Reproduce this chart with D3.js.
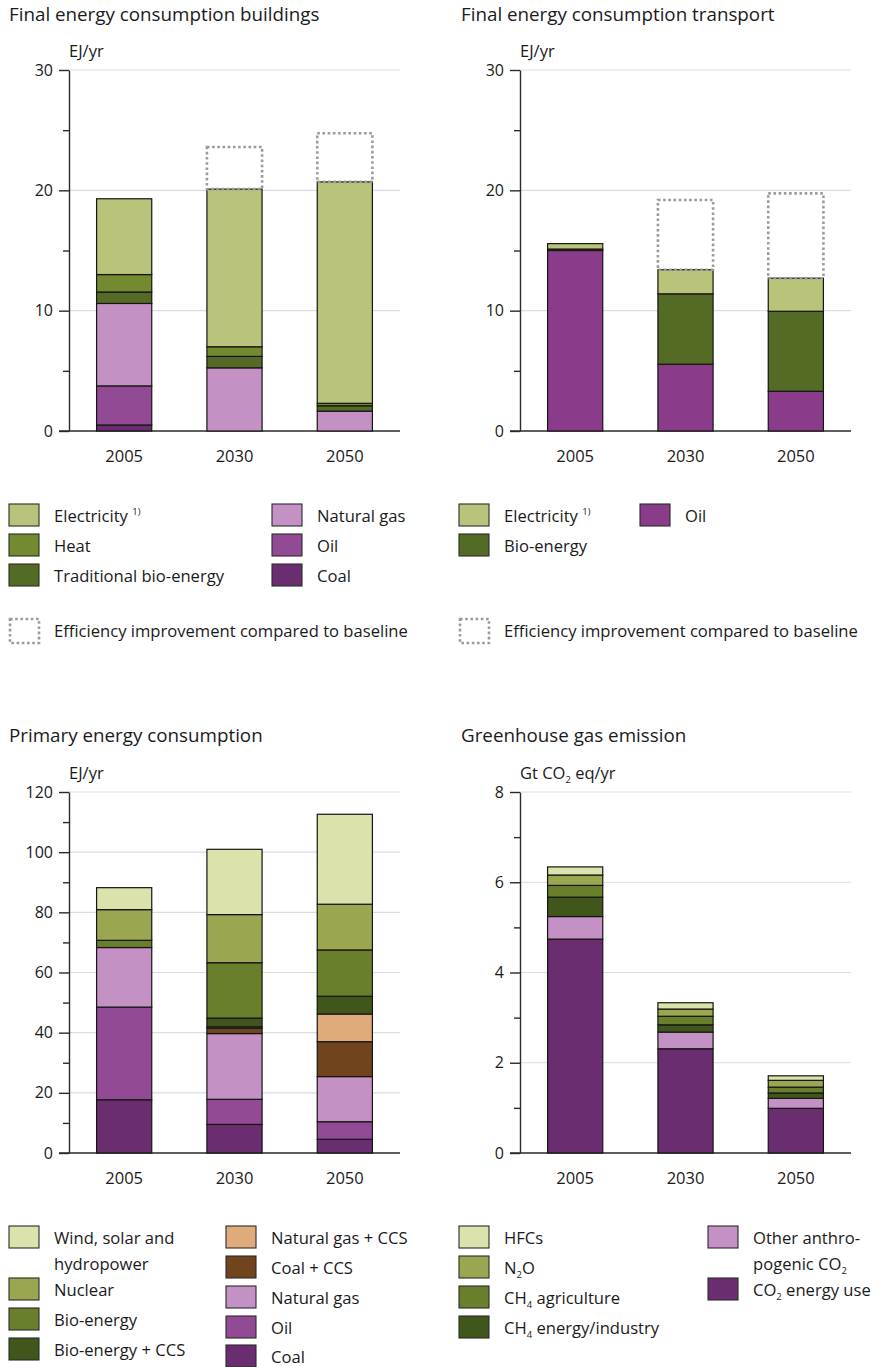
<!DOCTYPE html>
<html>
<head>
<meta charset="utf-8">
<script src="https://cdn.jsdelivr.net/npm/d3@7"></script>
<style>
body { margin: 0; background: #fff; }
svg { display: block; font-family: "Open Sans", sans-serif; }
text { fill: #1a1a1a; }
.title { font-size: 18.8px; }
.unit { font-size: 16.5px; }
.axis text { font-size: 16px; font-family: "Open Sans", sans-serif; fill: #1a1a1a; }
.axis path, .axis line { stroke: #2a2a2a; stroke-width: 1.4; }
.grid { stroke: #dadde3; stroke-width: 1.2; }
.year { font-size: 16.5px; }
.bar { stroke: #151515; stroke-width: 1.2; }
.eff { fill: none; stroke: #9b9b9b; stroke-width: 2.6; stroke-dasharray: 2.6 2.6; }
.legend text { font-size: 16.6px; }
.swatch { stroke: #2a2a2a; stroke-width: 1.1; }
</style>
</head>
<body>
<svg width="880" height="1367"></svg>
<script>
const years = ['2005', '2030', '2050']

// Final energy consumption buildings (EJ/yr)
const bldCoal = [0.5, 0, 0]
const bldOil = [3.25, 0, 0]
const bldGas = [6.85, 5.25, 1.65]
const bldTradBio = [0.95, 0.95, 0.45]
const bldHeat = [1.45, 0.8, 0.2]
const bldElec = [6.3, 13.1, 18.4]
const bldEfficiency = [0, 3.5, 4.05]

// Final energy consumption transport (EJ/yr)
const trOil = [15.0, 5.55, 3.3]
const trBio = [0.12, 5.85, 6.65]
const trElec = [0.45, 2.0, 2.75]
const trEfficiency = [0, 5.8, 7.05]

// Primary energy consumption (EJ/yr)
const prCoal = [17.7, 9.5, 4.55]
const prOil = [30.8, 8.35, 5.85]
const prGas = [19.8, 21.85, 15.0]
const prCoalCCS = [0, 1.8, 11.6]
const prGasCCS = [0, 0.45, 9.2]
const prBioCCS = [0, 2.9, 5.9]
const prBio = [2.4, 18.4, 15.4]
const prNuclear = [10.2, 16.0, 15.2]
const prRenew = [7.3, 21.7, 29.9]

// Greenhouse gas emission (Gt CO2 eq/yr)
const ghgCO2Energy = [4.74, 2.31, 0.99]
const ghgCO2Other = [0.5, 0.37, 0.22]
const ghgCH4Energy = [0.43, 0.16, 0.12]
const ghgCH4Agri = [0.26, 0.19, 0.13]
const ghgN2O = [0.23, 0.16, 0.15]
const ghgHFC = [0.18, 0.14, 0.1]

const W = 331, H = 361
const svg = d3.select('svg')

// text with _{sub} and ^{sup} markup
function rich(sel, str) {
	let shift = 0
	str.split(/([_^]\{[^}]*\})/).forEach(part => {
		if (!part) return
		const t = sel.append('tspan')
		let s = 0
		if (part[0] === '_' || part[0] === '^') {
			s = part[0] === '_' ? 4 : -7
			t.attr('font-size', '9.5px')
			part = part.slice(2, -1)
		}
		t.attr('dy', s - shift).text(part)
		shift = s
	})
}

function drawPanel(p) {
	const g = svg.append('g').attr('transform', `translate(${p.x},${p.y})`)

	const x = d3.scaleBand().domain(years).range([0, W]).paddingInner(0.5).paddingOuter(0.25)
	const y = d3.scaleLinear().domain([0, p.max]).range([H, 0])

	g.selectAll('line.grid')
		.data(p.ticks.filter(d => d > 0))
		.join('line')
		.attr('class', 'grid')
		.attr('x1', 0).attr('x2', W)
		.attr('y1', d => y(d)).attr('y2', d => y(d))

	// minor ticks
	g.append('g')
		.attr('class', 'axis')
		.call(d3.axisLeft(y).tickValues(p.minor).tickSize(6).tickSizeOuter(0).tickFormat(''))
		.call(a => a.select('.domain').remove())

	g.append('g')
		.attr('class', 'axis')
		.call(d3.axisLeft(y).tickValues(p.ticks).tickSize(10).tickSizeOuter(0).tickPadding(6))

	g.append('line')
		.attr('x1', -10).attr('x2', W)
		.attr('y1', y(0)).attr('y2', y(0))
		.attr('stroke', '#2a2a2a').attr('stroke-width', 1.4)

	const table = years.map((yr, i) => {
		const row = {year: yr}
		p.series.forEach(s => { row[s.name] = s.values[i] })
		return row
	})
	const layers = d3.stack().keys(p.series.map(s => s.name))(table)

	layers.forEach((layer, li) => {
		g.selectAll(null)
			.data(layer.filter(d => d[1] - d[0] > 0))
			.join('rect')
			.attr('class', 'bar')
			.attr('fill', p.series[li].color)
			.attr('x', d => x(d.data.year))
			.attr('width', x.bandwidth())
			.attr('y', d => y(d[1]))
			.attr('height', d => y(d[0]) - y(d[1]))
	})

	if (p.efficiency) {
		const top = layers[layers.length - 1]
		g.selectAll(null)
			.data(years.map((yr, i) => ({year: yr, base: top[i][1], extra: p.efficiency[i]})).filter(d => d.extra > 0))
			.join('rect')
			.attr('class', 'eff')
			.attr('x', d => x(d.year))
			.attr('width', x.bandwidth())
			.attr('y', d => y(d.base + d.extra))
			.attr('height', d => y(d.base) - y(d.base + d.extra))
	}

	g.selectAll('text.year')
		.data(years)
		.join('text')
		.attr('class', 'year')
		.attr('x', d => x(d) + x.bandwidth() / 2)
		.attr('y', H + 31)
		.attr('text-anchor', 'middle')
		.text(d => d)

	g.append('text')
		.attr('class', 'unit')
		.attr('x', 0).attr('y', -13)
		.call(t => rich(t, p.unit))

	svg.append('text')
		.attr('class', 'title')
		.attr('x', p.tx).attr('y', p.ty)
		.text(p.title)

	// legend
	const lg = svg.append('g').attr('class', 'legend')
	p.series.forEach(s => {
		const sx = p.legendCols[s.col], sy = p.legendTop + s.ly
		lg.append('rect')
			.attr('class', 'swatch')
			.attr('x', sx).attr('y', sy)
			.attr('width', 30).attr('height', 22)
			.attr('fill', s.color)
		s.label.forEach((line, k) => {
			lg.append('text')
				.attr('x', sx + 45).attr('y', sy + 18 + k * 26)
				.call(t => rich(t, line))
		})
	})
	if (p.efficiency) {
		const sx = p.legendCols[0], sy = p.legendTop + 115
		lg.append('rect')
			.attr('class', 'eff')
			.attr('x', sx + 1).attr('y', sy)
			.attr('width', 29).attr('height', 24)
		lg.append('text')
			.attr('x', sx + 45).attr('y', sy + 18)
			.text('Efficiency improvement compared to baseline')
	}
}

const cLightGreen = '#b9c37a', cHeat = '#738a31', cDarkGreen = '#546b26'
const cWind = '#dbe2ac', cNuclear = '#9aa650', cBio = '#6a7f2b', cBioCCS = '#40561b'
const cGasCCS = '#dfab7b', cCoalCCS = '#70441c'
const cGas = '#c391c3', cOil = '#934a94', cCoal = '#6a2d70'

drawPanel({
	title: 'Final energy consumption buildings', tx: 9, ty: 21,
	x: 69, y: 70, max: 30, ticks: [0, 10, 20, 30], minor: [5, 15, 25], unit: 'EJ/yr',
	efficiency: bldEfficiency,
	legendTop: 504, legendCols: [9, 272],
	series: [
		{name: 'Coal', values: bldCoal, color: cCoal, label: ['Coal'], col: 1, ly: 60},
		{name: 'Oil', values: bldOil, color: cOil, label: ['Oil'], col: 1, ly: 30},
		{name: 'Natural gas', values: bldGas, color: cGas, label: ['Natural gas'], col: 1, ly: 0},
		{name: 'Traditional bio-energy', values: bldTradBio, color: cDarkGreen, label: ['Traditional bio-energy'], col: 0, ly: 60},
		{name: 'Heat', values: bldHeat, color: cHeat, label: ['Heat'], col: 0, ly: 30},
		{name: 'Electricity', values: bldElec, color: cLightGreen, label: ['Electricity ^{1)}'], col: 0, ly: 0}
	]
})

drawPanel({
	title: 'Final energy consumption transport', tx: 461, ty: 21,
	x: 520, y: 70, max: 30, ticks: [0, 10, 20, 30], minor: [5, 15, 25], unit: 'EJ/yr',
	efficiency: trEfficiency,
	legendTop: 504, legendCols: [459, 640],
	series: [
		{name: 'Oil', values: trOil, color: '#8a3c8b', label: ['Oil'], col: 1, ly: 0},
		{name: 'Bio-energy', values: trBio, color: cDarkGreen, label: ['Bio-energy'], col: 0, ly: 30},
		{name: 'Electricity', values: trElec, color: cLightGreen, label: ['Electricity ^{1)}'], col: 0, ly: 0}
	]
})

drawPanel({
	title: 'Primary energy consumption', tx: 9, ty: 742,
	x: 69, y: 792, max: 120, ticks: [0, 20, 40, 60, 80, 100, 120], minor: [10, 30, 50, 70, 90, 110], unit: 'EJ/yr',
	legendTop: 1226, legendCols: [9, 226],
	series: [
		{name: 'Coal', values: prCoal, color: cCoal, label: ['Coal'], col: 1, ly: 119},
		{name: 'Oil', values: prOil, color: cOil, label: ['Oil'], col: 1, ly: 90},
		{name: 'Natural gas', values: prGas, color: cGas, label: ['Natural gas'], col: 1, ly: 60},
		{name: 'Coal + CCS', values: prCoalCCS, color: cCoalCCS, label: ['Coal + CCS'], col: 1, ly: 30},
		{name: 'Natural gas + CCS', values: prGasCCS, color: cGasCCS, label: ['Natural gas + CCS'], col: 1, ly: 0},
		{name: 'Bio-energy + CCS', values: prBioCCS, color: cBioCCS, label: ['Bio-energy + CCS'], col: 0, ly: 112},
		{name: 'Bio-energy', values: prBio, color: cBio, label: ['Bio-energy'], col: 0, ly: 82},
		{name: 'Nuclear', values: prNuclear, color: cNuclear, label: ['Nuclear'], col: 0, ly: 52},
		{name: 'Wind, solar and hydropower', values: prRenew, color: cWind, label: ['Wind, solar and', 'hydropower'], col: 0, ly: 0}
	]
})

drawPanel({
	title: 'Greenhouse gas emission', tx: 461, ty: 742,
	x: 520, y: 792, max: 8, ticks: [0, 2, 4, 6, 8], minor: [1, 3, 5, 7], unit: 'Gt CO_{2} eq/yr',
	legendTop: 1226, legendCols: [459, 708],
	series: [
		{name: 'CO2 energy use', values: ghgCO2Energy, color: cCoal, label: ['CO_{2} energy use'], col: 1, ly: 52},
		{name: 'Other CO2', values: ghgCO2Other, color: cGas, label: ['Other anthro-', 'pogenic CO_{2}'], col: 1, ly: 0},
		{name: 'CH4 energy/industry', values: ghgCH4Energy, color: cBioCCS, label: ['CH_{4} energy/industry'], col: 0, ly: 90},
		{name: 'CH4 agriculture', values: ghgCH4Agri, color: cBio, label: ['CH_{4} agriculture'], col: 0, ly: 60},
		{name: 'N2O', values: ghgN2O, color: cNuclear, label: ['N_{2}O'], col: 0, ly: 30},
		{name: 'HFCs', values: ghgHFC, color: cWind, label: ['HFCs'], col: 0, ly: 0}
	]
})
</script>
</body>
</html>
